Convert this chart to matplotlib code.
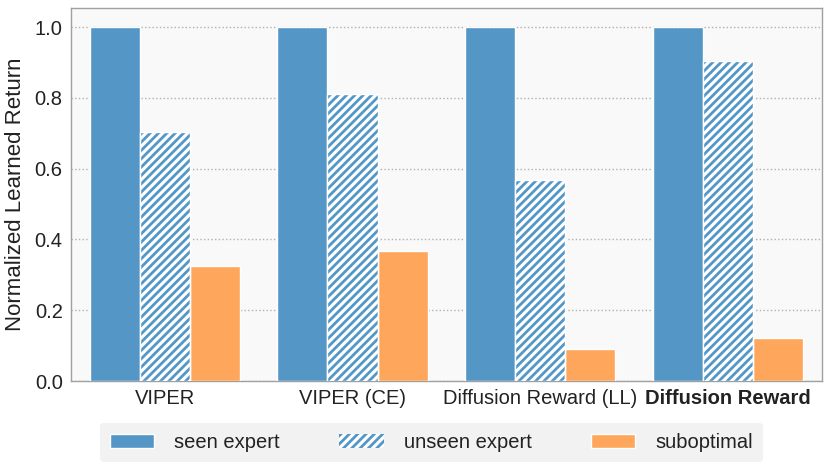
import matplotlib
matplotlib.use("Agg")
import matplotlib.pyplot as plt
import numpy as np

categories = ["VIPER", "VIPER (CE)", "Diffusion Reward (LL)", "Diffusion Reward"]
seen_expert = [1.0, 1.0, 1.0, 1.0]
unseen_expert = [0.705, 0.81, 0.568, 0.905]
suboptimal = [0.326, 0.367, 0.091, 0.121]

plt.rcParams['font.family'] = ['Liberation Sans', 'DejaVu Sans']
plt.rcParams['hatch.linewidth'] = 2.0

blue = '#5497c7'
orange = '#fea65b'

fig = plt.figure(figsize=(8.3, 4.71), dpi=100)
ax = fig.add_axes([0.0855, 0.191, 0.9045, 0.792])
ax.set_facecolor('#f9f9f9')

x = np.arange(len(categories))
w = 0.8 / 3
ax.bar(x - w, seen_expert, w, color=blue, edgecolor='white', linewidth=1, label='seen expert', zorder=3)
ax.bar(x, unseen_expert, w, facecolor='white', edgecolor=blue, hatch='////', linewidth=0, label='unseen expert', zorder=3)
ax.bar(x, unseen_expert, w, fill=False, edgecolor='white', linewidth=1, zorder=4)
ax.bar(x + w, suboptimal, w, color=orange, edgecolor='white', linewidth=1, label='suboptimal', zorder=3)

ax.set_xlim(-0.5, 3.5)
ax.set_ylim(0, 1.054)
ax.set_yticks([0.0, 0.2, 0.4, 0.6, 0.8, 1.0])
ax.set_yticklabels(['0.0', '0.2', '0.4', '0.6', '0.8', '1.0'])
ax.set_xticks(x)
ax.set_xticklabels(categories)
ax.get_xticklabels()[3].set_fontweight('bold')
ax.tick_params(axis='both', labelsize=14.5, length=0, colors='#222222', pad=6)
ax.set_ylabel('Normalized Learned Return', fontsize=16, color='#222222', labelpad=6)
ax.yaxis.grid(True, linestyle=':', color='#b0b0b0', linewidth=1, zorder=0)
ax.xaxis.grid(False)
for s in ax.spines.values():
    s.set_color('#a0a0a0')
    s.set_linewidth(1)

leg = fig.legend(loc='center', bbox_to_anchor=(0.52, 0.0605), ncol=3, fontsize=14.5,
                 frameon=True, facecolor='#f2f2f2', edgecolor='none', framealpha=1,
                 handlelength=2.2, handleheight=0.7, columnspacing=2.95, handletextpad=1.0,
                 borderpad=0.5)
for t in leg.get_texts():
    t.set_color('#222222')

fig.savefig('out.png', dpi=100)
